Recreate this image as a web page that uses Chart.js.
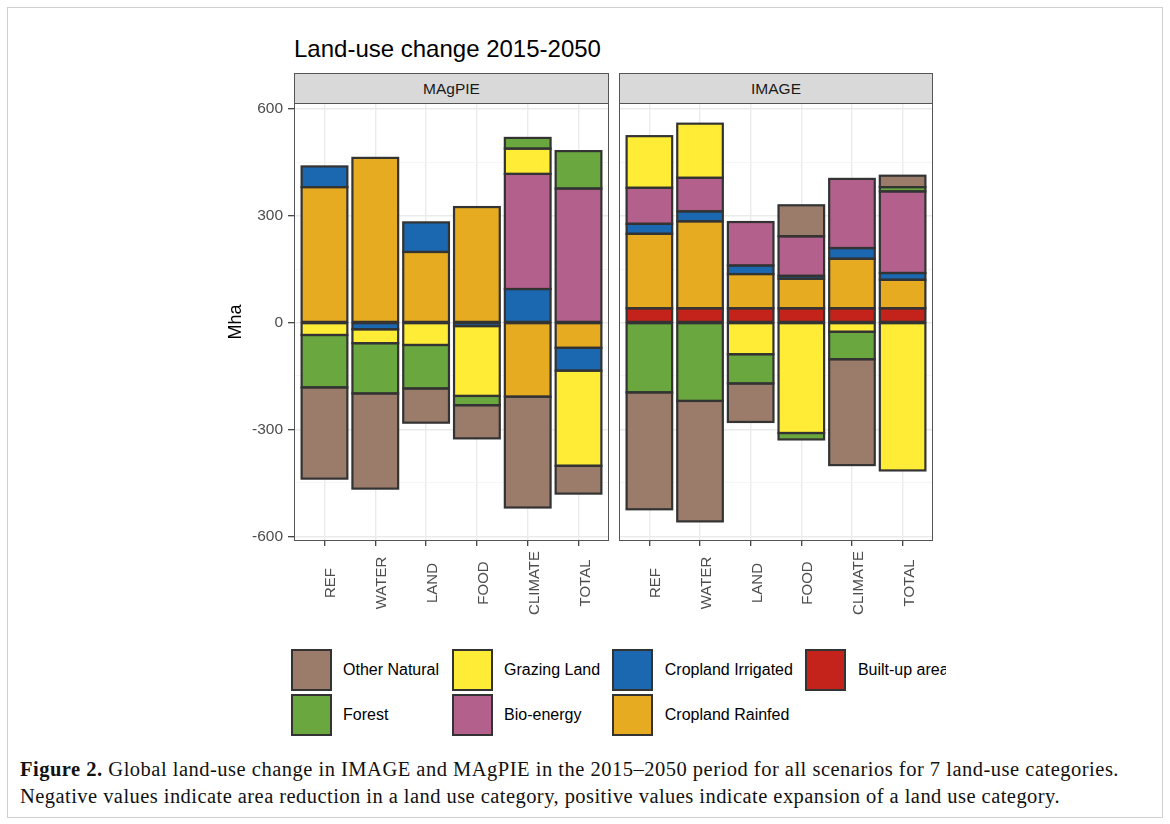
<!DOCTYPE html>
<html>
<head>
<meta charset="utf-8">
<script src="https://cdn.jsdelivr.net/npm/chart.js@4/dist/chart.umd.min.js"></script>
<style>
html,body{margin:0;padding:0;background:#fff;}
body{width:1170px;height:824px;position:relative;overflow:hidden;font-family:"Liberation Sans",Arial,sans-serif;}
.abs{position:absolute;}
#frame{left:7px;top:7px;width:1154px;height:809px;border:1px solid #d0d0d0;}
#title{left:294px;top:37px;font-size:24px;line-height:24px;color:#000;white-space:nowrap;}
.strip{position:absolute;top:73px;height:31px;box-sizing:border-box;border:1px solid #555;background:#d9d9d9;color:#1a1a1a;font-size:15.5px;display:flex;align-items:center;justify-content:center;}
canvas{position:absolute;}
#legend{position:absolute;left:280px;top:640px;width:666px;height:105px;overflow:hidden;}
.key{position:absolute;width:41px;height:42px;box-sizing:border-box;border:2px solid #333;}
.lab{position:absolute;font-size:16px;line-height:18px;color:#000;white-space:nowrap;}
#caption{position:absolute;left:20px;top:756px;font-family:"Liberation Serif","Times New Roman",serif;font-size:20.5px;line-height:27px;color:#111;}
#caption span{display:inline-block;white-space:nowrap;}
</style>
</head>
<body>
<div id="frame" class="abs"></div>
<div id="title" class="abs">Land-use change 2015-2050</div>
<div class="strip" style="left:294px;width:315px;">MAgPIE</div>
<div class="strip" style="left:619px;width:314px;">IMAGE</div>
<canvas id="c1" width="412" height="557" style="left:200px;top:83px;"></canvas>
<canvas id="c2" width="326" height="557" style="left:614px;top:83px;"></canvas>
<div id="legend"></div>
<div id="caption"><span id="cap1"><b>Figure 2.</b> Global land-use change in IMAGE and MAgPIE in the 2015–2050 period for all scenarios for 7 land-use categories.</span><br><span id="cap2">Negative values indicate area reduction in a land use category, positive values indicate expansion of a land use category.</span></div>
<script>
// ---------------- DATA ----------------
const scenarios = ['REF', 'WATER', 'LAND', 'FOOD', 'CLIMATE', 'TOTAL'];
const models = ['MAgPIE', 'IMAGE'];
// stacking order: nearest to zero first
const categories = ['Built-up area', 'Cropland Rainfed', 'Cropland Irrigated', 'Bio-energy', 'Grazing Land', 'Forest', 'Other Natural'];
const legendOrder = ['Other Natural', 'Forest', 'Grazing Land', 'Bio-energy', 'Cropland Irrigated', 'Cropland Rainfed', 'Built-up area'];

// MAgPIE (Mha)
const magpieBuiltUp   = [null, null, null, null, null, null];
const magpieRainfed   = [380, 462, 198, 324, -208, -71];
const magpieIrrigated = [58, -19, 83, -10, 94, -64];
const magpieBio       = [null, null, null, null, 323, 376];
const magpieGrazing   = [-35, -39, -63, -196, 71, -267];
const magpieForest    = [-147, -141, -122, -26, 30, 105];
const magpieOther     = [-256, -267, -96, -93, -311, -78];

// IMAGE (Mha)
const imageBuiltUp   = [40, 40, 40, 40, 40, 40];
const imageRainfed   = [209, 244, 96, 83, 139, 80];
const imageIrrigated = [28, 28, 24, 8, 30, 19];
const imageBio       = [101, 94, 122, 111, 194, 229];
const imageGrazing   = [145, 152, -89, -310, -26, -415];
const imageForest    = [-196, -220, -82, -18, -77, 12];
const imageOther     = [-328, -338, -108, 87, -297, 32];

const yMajorTicks = [-600, -300, 0, 300, 600];
const yMinorTicks = [-450, -150, 150, 450];

// ---------------- STYLE ----------------
const colors = {
  'Other Natural': '#9b7c6b',
  'Forest': '#6aa83f',
  'Grazing Land': '#feec37',
  'Bio-energy': '#b3608d',
  'Cropland Irrigated': '#1b68b1',
  'Cropland Rainfed': '#e6ab20',
  'Built-up area': '#c3231b'
};
const FONT = '"Liberation Sans", Arial, sans-serif';
const yAll = yMajorTicks.concat(yMinorTicks).sort((a, b) => a - b);
const isMajor = v => yMajorTicks.indexOf(v) >= 0;

function makeDatasets(series) {
  return categories.map((name, k) => ({
    label: name,
    data: series[k].map((v, i) => ({ x: i, y: v })),
    backgroundColor: colors[name],
    borderWidth: 0,
    barPercentage: 0.9,
    categoryPercentage: 1.0
  }));
}

const outlinePlugin = {
  id: 'outline',
  afterDatasetsDraw(chart) {
    const ctx = chart.ctx;
    ctx.save();
    ctx.strokeStyle = '#333';
    ctx.lineWidth = 2.2;
    chart.data.datasets.forEach((ds, di) => {
      const meta = chart.getDatasetMeta(di);
      meta.data.forEach((el, i) => {
        const v = ds.data[i].y;
        if (v === null || v === 0) return;
        const p = el.getProps(['x', 'y', 'base', 'width'], true);
        const top = Math.min(p.y, p.base);
        ctx.strokeRect(p.x - p.width / 2, top, p.width, Math.abs(p.base - p.y));
      });
    });
    ctx.restore();
  }
};

const panelPlugin = {
  id: 'panel',
  afterDraw(chart) {
    const { ctx, chartArea: a } = chart;
    ctx.save();
    ctx.strokeStyle = '#555';
    ctx.lineWidth = 1;
    ctx.strokeRect(a.left + 0.5, a.top + 0.5, a.right - a.left - 1, a.bottom - a.top - 1);
    const xs = chart.scales.x;
    ctx.fillStyle = '#4d4d4d';
    ctx.font = '15px ' + FONT;
    ctx.textAlign = 'center';
    ctx.textBaseline = 'alphabetic';
    scenarios.forEach((s, i) => {
      const px = xs.getPixelForValue(i);
      ctx.save();
      ctx.translate(px, a.bottom + 42);
      ctx.rotate(-Math.PI / 2);
      ctx.fillText(s, 0, 11);
      ctx.restore();
    });
    ctx.restore();
  }
};

function xAxis() {
  return {
    type: 'linear', min: -0.6, max: 5.6, stacked: true, offset: false,
    afterBuildTicks: s => { s.ticks = scenarios.map((_, i) => ({ value: i })); },
    afterFit: s => { s.height = 99; },
    ticks: { display: false },
    grid: { offset: false, color: '#ebebeb', lineWidth: 1.4, drawTicks: true, tickLength: 5, tickColor: '#333', tickWidth: 1.2 },
    border: { display: false }
  };
}

function yAxis(showLabels) {
  return {
    min: -613, max: 616, stacked: true,
    afterBuildTicks: s => { s.ticks = yAll.map(v => ({ value: v })); },
    afterFit: s => { s.width = showLabels ? 94 : 5; },
    ticks: {
      display: showLabels, autoSkip: false,
      callback: v => isMajor(v) ? String(v) : '',
      color: '#4d4d4d', font: { size: 15.5, family: FONT }, padding: 5
    },
    grid: {
      color: c => (c.tick && isMajor(c.tick.value)) ? '#ebebeb' : '#f4f4f4',
      lineWidth: c => (c.tick && isMajor(c.tick.value)) ? 1.4 : 0.8,
      drawTicks: showLabels, tickLength: 6,
      tickColor: c => (c.tick && isMajor(c.tick.value)) ? '#333' : 'rgba(0,0,0,0)',
      tickWidth: 1.2
    },
    border: { display: false },
    title: showLabels ? { display: true, text: 'Mha', color: '#000', font: { size: 18, family: FONT }, padding: { top: 25, bottom: 0 } } : { display: false }
  };
}

function makeChart(id, series, showY, pad) {
  return new Chart(document.getElementById(id), {
    type: 'bar',
    data: { datasets: makeDatasets(series) },
    options: {
      responsive: false, animation: false, devicePixelRatio: 1,
      layout: { padding: pad },
      plugins: { legend: { display: false }, tooltip: { enabled: false }, title: { display: false } },
      scales: { x: xAxis(), y: yAxis(showY) }
    },
    plugins: [outlinePlugin, panelPlugin]
  });
}

makeChart('c1', [magpieBuiltUp, magpieRainfed, magpieIrrigated, magpieBio, magpieGrazing, magpieForest, magpieOther], true, { top: 20, right: 3, left: 0, bottom: 0 });
makeChart('c2', [imageBuiltUp, imageRainfed, imageIrrigated, imageBio, imageGrazing, imageForest, imageOther], false, { top: 20, right: 7, left: 0, bottom: 0 });

// ---------------- LEGEND ----------------
const legCols = [10.5, 171.6, 332.3, 525.4];
const legRows = [9, 54];
const leg = document.getElementById('legend');
legendOrder.forEach((name, k) => {
  const col = Math.floor(k / 2), row = k % 2;
  const key = document.createElement('div');
  key.className = 'key';
  key.style.left = legCols[col] + 'px';
  key.style.top = legRows[row] + 'px';
  key.style.background = colors[name];
  leg.appendChild(key);
  const lab = document.createElement('div');
  lab.className = 'lab';
  lab.textContent = name;
  lab.style.left = (legCols[col] + 52.5) + 'px';
  lab.style.top = (legRows[row] + 21 - 9) + 'px';
  leg.appendChild(lab);
});

// ---------------- CAPTION FIT ----------------
function fitLine(el, target) {
  const w = el.getBoundingClientRect().width;
  const n = el.textContent.length;
  el.style.letterSpacing = ((target - w) / n) + 'px';
}
fitLine(document.getElementById('cap1'), 1099);
fitLine(document.getElementById('cap2'), 1040);
</script>
</body>
</html>
